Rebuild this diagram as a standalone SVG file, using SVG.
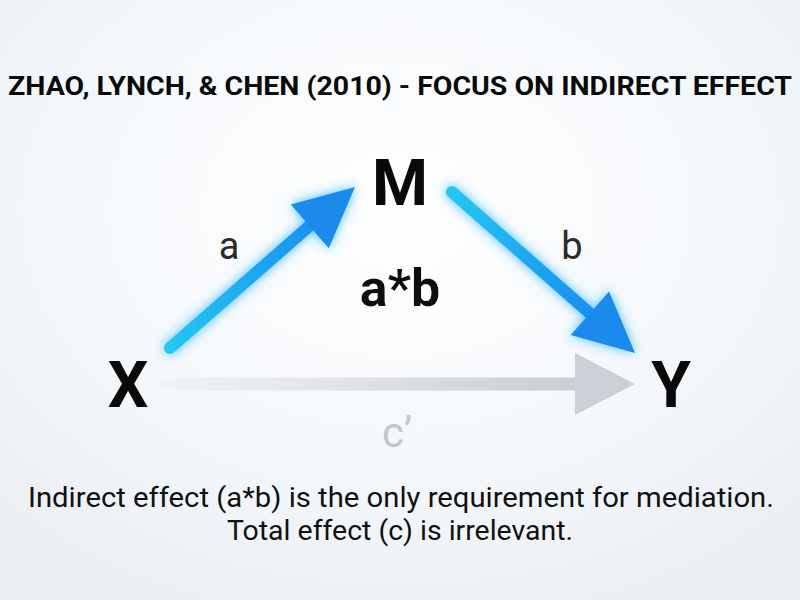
<svg xmlns="http://www.w3.org/2000/svg" width="800" height="600" viewBox="0 0 800 600">
<defs>
<radialGradient id="bg" cx="0.5" cy="0.35" r="0.75">
<stop offset="0" stop-color="#fdfeff"/>
<stop offset="0.6" stop-color="#f4f7fa"/>
<stop offset="1" stop-color="#e9edf2"/>
</radialGradient>
<linearGradient id="ga" gradientUnits="userSpaceOnUse" x1="170" y1="348" x2="330" y2="210">
<stop offset="0" stop-color="#25c6f2"/>
<stop offset="1" stop-color="#1a8cee"/>
</linearGradient>
<linearGradient id="gb" gradientUnits="userSpaceOnUse" x1="452" y1="192" x2="600" y2="322">
<stop offset="0" stop-color="#25c6f2"/>
<stop offset="1" stop-color="#1a8cee"/>
</linearGradient>
<linearGradient id="gc" gradientUnits="userSpaceOnUse" x1="167" y1="0" x2="600" y2="0">
<stop offset="0" stop-color="#f1f3f6"/>
<stop offset="1" stop-color="#c8cbd3"/>
</linearGradient>
<filter id="glow" x="-30%" y="-30%" width="160%" height="160%">
<feGaussianBlur in="SourceAlpha" stdDeviation="6" result="b"/>
<feFlood flood-color="#45c0ff" flood-opacity="1"/>
<feComposite in2="b" operator="in" result="g"/>
<feMerge><feMergeNode in="g"/><feMergeNode in="SourceGraphic"/></feMerge>
</filter>
<filter id="soft" x="-30%" y="-30%" width="160%" height="160%">
<feGaussianBlur in="SourceAlpha" stdDeviation="6" result="b"/>
<feFlood flood-color="#ffffff" flood-opacity="1"/>
<feComposite in2="b" operator="in" result="g"/>
<feMerge><feMergeNode in="g"/><feMergeNode in="SourceGraphic"/></feMerge>
</filter>
<style>
.node{font-family:Roboto,"Liberation Sans",sans-serif;font-weight:700;font-size:64px;fill:#0a0a0a;text-anchor:middle}
.ab{font-family:Roboto,"Liberation Sans",sans-serif;font-weight:700;font-size:52px;fill:#0a0a0a;text-anchor:middle}
.lbl{font-family:Roboto,"Liberation Sans",sans-serif;font-size:38px;fill:#2b2b2b;text-anchor:middle}
.lblc{font-family:Roboto,"Liberation Sans",sans-serif;font-size:42px;fill:#c2c6cc;text-anchor:middle}
.cap{font-family:Roboto,"Liberation Sans",sans-serif;font-size:28px;fill:#111;text-anchor:middle}
.shaft{fill:none;stroke-linecap:round}
</style>
</defs>
<rect width="800" height="600" fill="url(#bg)"/>

<text x="400" y="95" font-family="Roboto,'Liberation Sans',sans-serif" font-weight="700" font-size="25" fill="#0a0a0a" textLength="784" lengthAdjust="spacingAndGlyphs" text-anchor="middle">ZHAO, LYNCH, &amp; CHEN (2010) - FOCUS ON INDIRECT EFFECT</text>

<g id="connectors">
<g id="edge-c">
<line class="shaft" x1="167" y1="384" x2="590" y2="384" stroke="url(#gc)" stroke-width="13" stroke-linecap="butt"/>
<polygon points="635,384 575,353 575,415" fill="#cdd0d7"/>
</g>
<g id="edge-a" filter="url(#glow)">
<line class="shaft" x1="170" y1="348" x2="314" y2="222" stroke="url(#ga)" stroke-width="12"/>
<polygon points="355,187 328.8,248.3 290.8,204.5" fill="#1c8aec"/>
</g>
<g id="edge-b" filter="url(#glow)">
<line class="shaft" x1="452" y1="192" x2="594" y2="317" stroke="url(#gb)" stroke-width="12"/>
<polygon points="635,353 570.7,335.1 609.1,291.5" fill="#1c8aec"/>
</g>
<text class="lbl" x="229" y="259">a</text>
<text class="lbl" x="572" y="259">b</text>
<text class="lblc" x="397" y="447">c’</text>
</g>

<g id="node-M"><text class="node" x="400" y="205">M</text></g>
<g id="node-X"><text class="node" x="128" y="407">X</text></g>
<g id="node-Y"><text class="node" x="671" y="407">Y</text></g>
<g id="label-ab" filter="url(#soft)"><text class="ab" x="400" y="306">a*b</text></g>

<g id="caption">
<text class="cap" x="401" y="507" textLength="746" lengthAdjust="spacingAndGlyphs">Indirect effect (a*b) is the only requirement for mediation.</text>
<text class="cap" x="400" y="540" textLength="346" lengthAdjust="spacingAndGlyphs">Total effect (c) is irrelevant.</text>
</g>
</svg>
